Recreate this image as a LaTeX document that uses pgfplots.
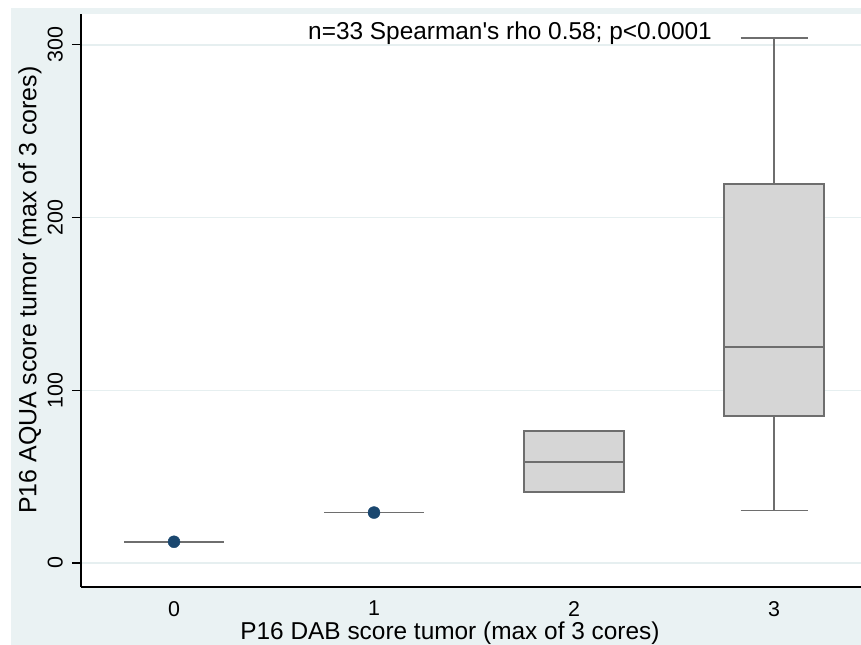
\documentclass[border=0pt]{standalone}
\usepackage{fontspec}
\setmainfont{Liberation Sans}
\usepackage{pgfplots}
\pgfplotsset{compat=1.18}
\definecolor{bgblue}{HTML}{EAF2F3}
\definecolor{gridc}{HTML}{E6EFF0}
\definecolor{boxfill}{HTML}{D6D6D6}
\definecolor{boxline}{HTML}{6E6E6E}
\definecolor{navy}{HTML}{1A476F}
\pgfplotsset{bl/.style={draw=boxline, line width=1.6bp, mark=none}}
\begin{document}
\begin{tikzpicture}
\fill[white] (0bp,0bp) rectangle (861bp,645bp);
\fill[bgblue] (11bp,0bp) rectangle (861bp,637bp);
\path[use as bounding box] (0bp,0bp) rectangle (861bp,645bp);
\begin{axis}[
  at={(81bp,58bp)}, anchor=south west,
  scale only axis, width=780bp, height=573bp,
  xmin=-0.465, xmax=3.435, ymin=-13.9, ymax=317.9,
  axis background/.style={fill=white},
  axis x line*=bottom, axis y line*=left,
  axis line style={black, line width=1.3bp, -},
  xtick={0,1,2,3}, ytick={0,100,200,300},
  x tick style={draw=none},
  y tick style={black, line width=1.1bp},
  tick align=outside,
  major tick length=9bp,
  ymajorgrids, grid style={gridc, line width=1.5bp},
  /pgf/number format/assume math mode=true,
  tick label style={font=\fontsize{21.5}{24}\selectfont, text=black},
  yticklabel style={rotate=90, anchor=south, inner sep=0pt, yshift=9bp},
  xticklabel style={anchor=north, inner sep=0pt, yshift=-5bp},
  xlabel={P16 DAB score tumor (max of 3 cores)},
  ylabel={P16 AQUA score tumor (max of 3 cores)},
  every axis x label/.style={at={(axis description cs:0.473,-0.0803)}, anchor=center, font=\fontsize{24.5}{28}\selectfont},
  every axis y label/.style={at={(axis description cs:-0.0654,0.518)}, anchor=center, rotate=90, font=\fontsize{25}{28}\selectfont},
  clip=false,
]
% group 0 and 1: all values equal
\addplot[bl] coordinates {(-0.25,12.3) (0.25,12.3)};
\addplot[bl] coordinates {(0.75,29.2) (1.25,29.2)};
% group 2: box q1=41.1, median=58.4, q3=76.4
\addplot[bl, fill=boxfill] coordinates {(1.75,41.1) (2.25,41.1) (2.25,76.4) (1.75,76.4)} -- cycle;
\addplot[bl] coordinates {(1.75,58.4) (2.25,58.4)};
% group 3: whiskers 30.4 / 304, q1=85, median=125, q3=219.5
\addplot[bl] coordinates {(3,219.5) (3,304.0)};
\addplot[bl] coordinates {(2.8325,304.0) (3.1675,304.0)};
\addplot[bl] coordinates {(3,85.0) (3,30.4)};
\addplot[bl] coordinates {(2.8325,30.4) (3.1675,30.4)};
\addplot[bl, fill=boxfill] coordinates {(2.75,85.0) (3.25,85.0) (3.25,219.5) (2.75,219.5)} -- cycle;
\addplot[bl] coordinates {(2.75,125.0) (3.25,125.0)};
\addplot[only marks, mark=*, mark size=6bp, draw=navy, fill=navy] coordinates {(0,12.3) (1,29.2)};
\node[font=\fontsize{24.5}{28}\selectfont, anchor=center] at (rel axis cs:0.550,0.967) {n=33 Spearman\textquotesingle s rho 0.58; p<0.0001};
\end{axis}
\end{tikzpicture}
\end{document}
